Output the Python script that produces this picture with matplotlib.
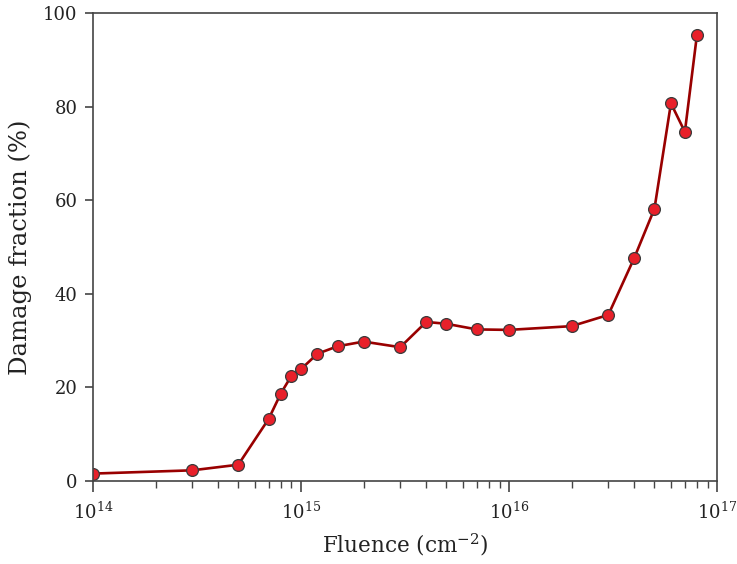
import numpy as np
import matplotlib
matplotlib.use('Agg')
import matplotlib.pyplot as plt
from matplotlib.ticker import LogLocator, NullFormatter

plt.rcParams['font.family'] = ['DejaVu Serif']
plt.rcParams['mathtext.fontset'] = 'dejavuserif'

### data
fluence = [1e14, 3e14, 5e14, 7e14, 8e14, 9e14, 1e15, 1.2e15, 1.5e15, 2e15, 3e15,
           4e15, 5e15, 7e15, 1e16, 2e16, 3e16, 4e16, 5e16, 6e16, 7e16, 8e16]
damage = [1.6, 2.3, 3.5, 13.3, 18.7, 22.5, 23.9, 27.2, 28.8, 29.8, 28.6,
          34.0, 33.6, 32.4, 32.3, 33.1, 35.5, 47.7, 58.2, 80.7, 74.6, 95.3]

fig = plt.figure(figsize=(7.37, 5.64), dpi=100)
ax = fig.add_axes([0.126, 0.147, 0.847, 0.830])

ax.plot(fluence, damage, color='#990000', lw=1.9, marker='o', markersize=8.5,
        markerfacecolor='#e8202a', markeredgecolor='#3a3a3a', markeredgewidth=0.9)

ax.set_xscale('log')
ax.set_xlim(1e14, 1e17)
ax.set_ylim(0, 100)
ax.set_yticks([0, 20, 40, 60, 80, 100])
ax.xaxis.set_minor_locator(LogLocator(base=10, subs=np.arange(2, 10)))
ax.xaxis.set_minor_formatter(NullFormatter())

for s in ax.spines.values():
    s.set_color('#444444')
    s.set_linewidth(1.2)

ax.tick_params(axis='x', which='major', direction='out', length=8, width=1.2,
               color='#444444', pad=7, labelsize=13, labelcolor='#222222')
ax.tick_params(axis='x', which='minor', direction='out', length=5, width=1.0, color='#444444')
ax.tick_params(axis='y', direction='out', length=6, width=1.2, color='#444444',
               pad=5, labelsize=13, labelcolor='#222222')

ax.set_xlabel('Fluence (cm$^{-2}$)', fontsize=15.5, color='#222222', labelpad=6)
ax.set_ylabel('Damage fraction (%)', fontsize=17.5, color='#222222', labelpad=8)

fig.savefig('out.png', dpi=100)
